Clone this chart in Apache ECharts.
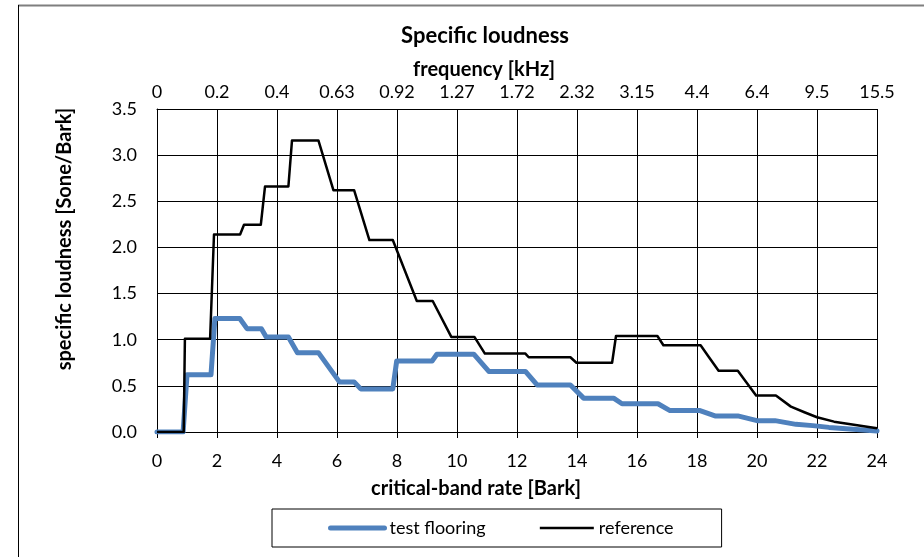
<!DOCTYPE html>
<html>
<head>
<meta charset="utf-8">
<script src="https://cdn.jsdelivr.net/npm/echarts@6/dist/echarts.min.js"></script>
<style>
html,body{margin:0;padding:0;background:#fff;}
#chart{width:924px;height:557px;}
</style>
</head>
<body>
<div id="chart"></div>
<script>
// critical-band rate [Bark] and specific loudness [Sone/Bark]
var testBark = [0, 0.87, 1.0, 1.8, 1.93, 2.76, 3.0, 3.48, 3.64, 4.38, 4.68, 5.38, 6.08, 6.57, 6.79, 7.86, 7.99, 9.17, 9.33, 10.56, 11.06, 12.28, 12.67, 13.78, 14.22, 15.22, 15.5, 16.7, 17.1, 18.1, 18.6, 19.36, 20.0, 20.6, 21.3, 21.86, 22.4, 23.2, 24.0];
var testValues = [0, 0, 0.62, 0.62, 1.23, 1.23, 1.12, 1.12, 1.03, 1.03, 0.86, 0.86, 0.543, 0.543, 0.467, 0.467, 0.77, 0.77, 0.843, 0.843, 0.656, 0.656, 0.51, 0.51, 0.367, 0.367, 0.306, 0.306, 0.232, 0.232, 0.174, 0.174, 0.123, 0.123, 0.083, 0.069, 0.05, 0.03, 0.01];

var refBark = [0, 0.89, 0.93, 1.77, 1.9, 2.77, 2.9, 3.46, 3.6, 4.38, 4.5, 5.38, 5.88, 6.57, 7.08, 7.86, 8.66, 9.19, 9.81, 10.58, 10.93, 12.28, 12.39, 13.78, 13.98, 15.17, 15.3, 16.68, 16.88, 18.12, 18.4, 18.72, 19.36, 19.97, 20.63, 21.13, 21.58, 22.0, 22.57, 23.34, 24.0];
var refValues = [0, 0, 1.01, 1.01, 2.14, 2.14, 2.245, 2.245, 2.66, 2.66, 3.16, 3.16, 2.62, 2.62, 2.08, 2.08, 1.42, 1.42, 1.03, 1.03, 0.85, 0.85, 0.81, 0.81, 0.75, 0.75, 1.04, 1.04, 0.94, 0.94, 0.81, 0.663, 0.663, 0.395, 0.395, 0.275, 0.214, 0.16, 0.112, 0.072, 0.04];

// top axis: frequency [kHz] labels at every 2 Bark
var freqTickBark = [0, 2, 4, 6, 8, 10, 12, 14, 16, 18, 20, 22, 24];
var freqTickLabels = ['0', '0.2', '0.4', '0.63', '0.92', '1.27', '1.72', '2.32', '3.15', '4.4', '6.4', '9.5', '15.5'];

function pairs(xs, ys) { return xs.map(function (x, i) { return [x, ys[i]]; }); }

var FONT = 'Lato';
var NAME_STYLE = { fontFamily: FONT, fontSize: 20, fontWeight: 'bold', fill: '#000' };
var chart = echarts.init(document.getElementById('chart'));
chart.setOption({
  animation: false,
  backgroundColor: '#fff',
  textStyle: { fontFamily: FONT, color: '#000' },
  title: {
    text: 'Specific loudness',
    left: 480, top: 20, textAlign: 'center',
    textStyle: { fontFamily: FONT, fontSize: 22, fontWeight: 'bold', color: '#000' }
  },
  graphic: [
    { type: 'line', shape: { x1: 18, y1: 5.5, x2: 924, y2: 5.5 }, style: { stroke: '#7f7f7f', lineWidth: 2 } },
    { type: 'line', shape: { x1: 18.5, y1: 5, x2: 18.5, y2: 557 }, style: { stroke: '#000', lineWidth: 1 } },
    { type: 'text', x: 484, y: 70, style: Object.assign({ text: 'frequency [kHz]', align: 'center', verticalAlign: 'middle' }, NAME_STYLE) },
    { type: 'text', x: 476, y: 489, style: Object.assign({ text: 'critical-band rate [Bark]', align: 'center', verticalAlign: 'middle' }, NAME_STYLE) },
    { type: 'text', x: 65, y: 239, rotation: Math.PI / 2, style: Object.assign({ text: 'specific loudness [Sone/Bark]', align: 'center', verticalAlign: 'middle' }, NAME_STYLE) }
  ],
  grid: { left: 157, top: 109, width: 720, height: 323, containLabel: false },
  legend: {
    left: 272, top: 509,
    padding: [10, 48, 10, 56],
    itemGap: 53, itemWidth: 54, itemHeight: 14,
    borderColor: '#000', borderWidth: 1,
    itemStyle: { opacity: 0 },
    textStyle: { fontFamily: FONT, fontSize: 18, color: '#000' },
    data: [
      { name: 'test flooring', lineStyle: { width: 5, cap: 'round' } },
      { name: 'reference', lineStyle: { width: 2.5 } }
    ]
  },
  xAxis: [
    {
      type: 'value', position: 'bottom', min: 0, max: 24, interval: 2,
      axisLine: { show: true, lineStyle: { color: '#000', width: 1 } },
      axisTick: { show: true, length: 6, lineStyle: { color: '#000' } },
      axisLabel: { margin: 20, fontFamily: FONT, fontSize: 18, color: '#000' },
      splitLine: { show: true, lineStyle: { color: '#000', width: 1 } }
    },
    {
      type: 'value', position: 'top', min: 0, max: 24, interval: 2,
      axisLine: { show: true, lineStyle: { color: '#000', width: 1 } },
      axisTick: { show: false },
      axisLabel: {
        margin: 8, fontFamily: FONT, fontSize: 18, color: '#000',
        formatter: function (v) {
          var i = freqTickBark.indexOf(Math.round(v));
          return i >= 0 ? freqTickLabels[i] : '';
        }
      },
      splitLine: { show: false }
    }
  ],
  yAxis: {
    type: 'value', min: 0, max: 3.5, interval: 0.5,
    axisLine: { show: true, lineStyle: { color: '#000', width: 1 } },
    axisTick: { show: false },
    axisLabel: { margin: 20, fontFamily: FONT, fontSize: 18, color: '#000', formatter: function (v) { return v.toFixed(1); } },
    splitLine: { show: true, lineStyle: { color: '#000', width: 1 } }
  },
  series: [
    {
      name: 'test flooring', type: 'line', xAxisIndex: 0, symbol: 'none',
      data: pairs(testBark, testValues),
      lineStyle: { color: '#4F81BD', width: 5, cap: 'round', join: 'round' },
      itemStyle: { color: '#4F81BD' },
      z: 3
    },
    {
      name: 'reference', type: 'line', xAxisIndex: 0, symbol: 'none',
      data: pairs(refBark, refValues),
      lineStyle: { color: '#000', width: 2.5, join: 'round' },
      itemStyle: { color: '#000' },
      z: 4
    }
  ]
});
</script>
</body>
</html>
